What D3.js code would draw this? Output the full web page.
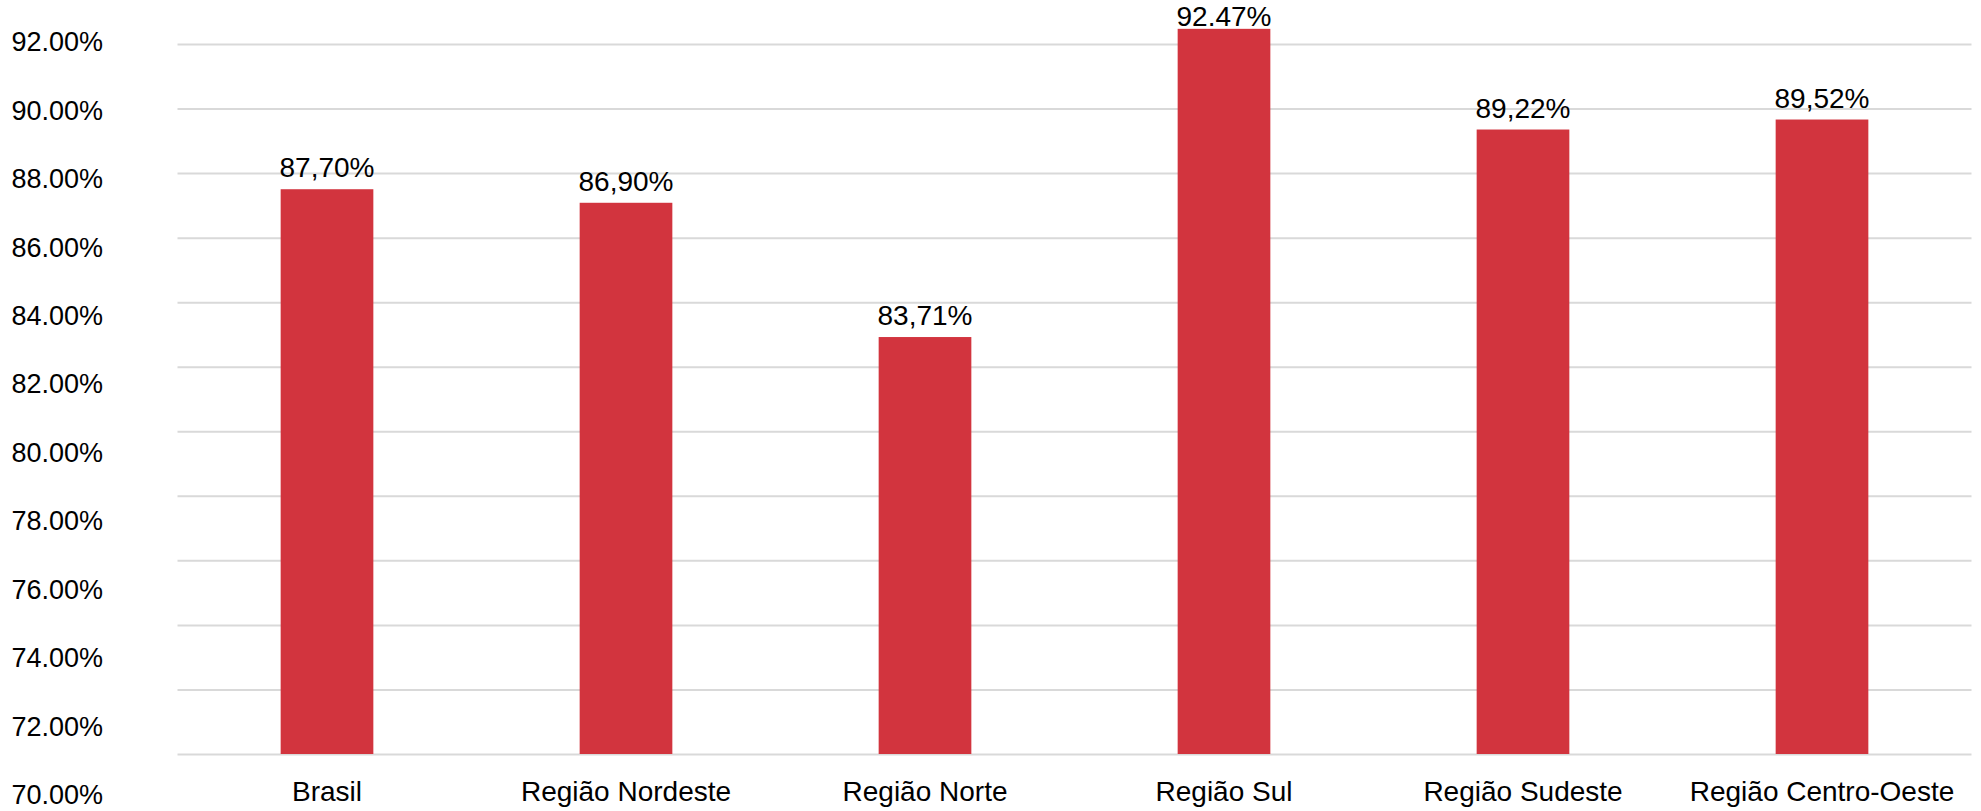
<!DOCTYPE html>
<html>
<head>
<meta charset="utf-8">
<script src="https://cdn.jsdelivr.net/npm/d3@7"></script>
<style>
  html, body { margin: 0; padding: 0; background: #ffffff; }
  svg { display: block; font-family: "Liberation Sans", Arial, sans-serif; }
</style>
</head>
<body>
<svg id="chart" width="1981" height="811"></svg>
<script>
// ---- data ----
const categories = ["Brasil", "Região Nordeste", "Região Norte", "Região Sul", "Região Sudeste", "Região Centro-Oeste"];
// bar heights as drawn in the picture (percent)
const values = [87.50, 87.08, 82.92, 92.47, 89.35, 89.66];
// data labels exactly as printed on the chart
const valueLabels = ["87,70%", "86,90%", "83,71%", "92.47%", "89,22%", "89,52%"];
const yTicks = [70, 72, 74, 76, 78, 80, 82, 84, 86, 88, 90, 92];
const yTickLabels = ["70.00%", "72.00%", "74.00%", "76.00%", "78.00%", "80.00%", "82.00%", "84.00%", "86.00%", "88.00%", "90.00%", "92.00%"];

// ---- layout ----
const svg = d3.select("#chart");
const plotLeft = 177.5, plotRight = 1971.5, plotTop = 44, plotBottom = 754;

const x = d3.scaleBand()
  .domain(categories)
  .range([plotLeft, plotRight])
  .paddingInner(0.69)
  .paddingOuter(0.345);

const y = d3.scaleLinear().domain([70, 92]).range([plotBottom, plotTop]);
// the value-axis labels in the picture are spread over a taller span than the gridlines
const yLabel = d3.scaleLinear().domain([70, 92]).range([795, 42]);

// gridlines
const grid = svg.append("g")
  .attr("transform", `translate(${plotLeft},0)`)
  .call(d3.axisLeft(y).tickValues(yTicks).tickSize(-(plotRight - plotLeft)).tickFormat(""));
grid.select(".domain").remove();
grid.selectAll(".tick line").attr("stroke", "#d9d9d9").attr("stroke-width", 2);

// value axis labels
const yAxis = svg.append("g")
  .attr("transform", "translate(103,0)")
  .call(d3.axisLeft(yLabel).tickValues(yTicks).tickSize(0).tickPadding(0)
    .tickFormat(d => yTickLabels[yTicks.indexOf(d)]));
yAxis.select(".domain").remove();
yAxis.selectAll("text")
  .attr("font-size", 27)
  .attr("fill", "#000")
  .attr("font-family", "Liberation Sans, Arial, sans-serif");

// bars
svg.append("g").selectAll("rect")
  .data(values)
  .join("rect")
  .attr("x", (d, i) => x(categories[i]))
  .attr("width", x.bandwidth())
  .attr("y", d => y(d))
  .attr("height", d => y(70) - y(d))
  .attr("fill", "#d2343e");

// data labels (kept inside the picture at the top)
svg.append("g").selectAll("text")
  .data(values)
  .join("text")
  .attr("x", (d, i) => x(categories[i]) + x.bandwidth() / 2)
  .attr("y", d => Math.max(y(d) - 12, 26))
  .attr("text-anchor", "middle")
  .attr("font-size", 28)
  .attr("fill", "#000")
  .text((d, i) => valueLabels[i]);

// category axis labels
const xAxis = svg.append("g")
  .attr("transform", `translate(0,${plotBottom})`)
  .call(d3.axisBottom(x).tickSize(0).tickPadding(0));
xAxis.select(".domain").remove();
xAxis.selectAll("text")
  .attr("dy", null)
  .attr("y", 47)
  .attr("font-size", 28)
  .attr("fill", "#000")
  .attr("font-family", "Liberation Sans, Arial, sans-serif");
</script>
</body>
</html>
